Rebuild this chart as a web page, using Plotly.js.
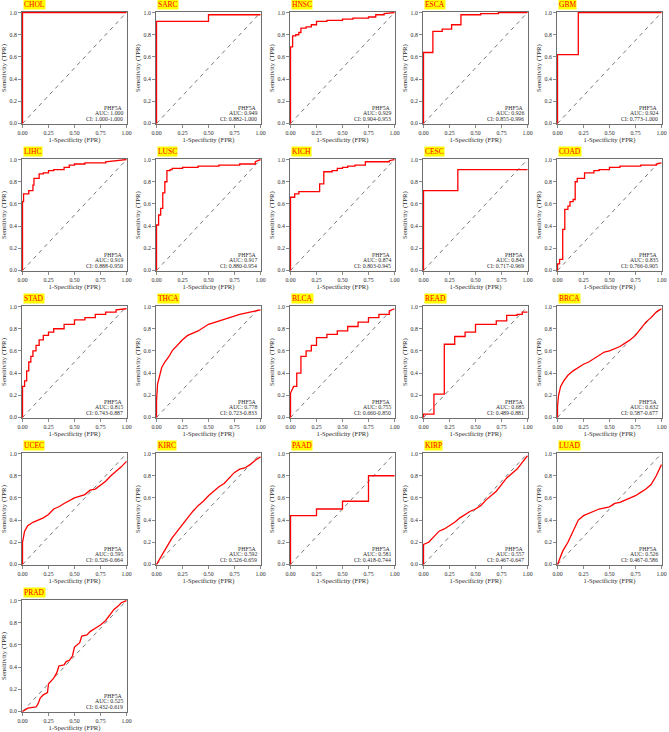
<!DOCTYPE html>
<html>
<head>
<meta charset="utf-8">
<script src="https://cdn.plot.ly/plotly-3.0.1.min.js"></script>
<style>html,body{margin:0;padding:0;background:#fff;}#chart{width:669px;height:732px;}</style>
</head>
<body>
<div id="chart"></div>
<script>
// ---- Data ----
const cancers = ['CHOL','SARC','HNSC','ESCA','GBM','LIHC','LUSC','KICH','CESC','COAD','STAD','THCA','BLCA','READ','BRCA','UCEC','KIRC','PAAD','KIRP','LUAD','PRAD'];
const geneName = 'PHF5A';
const aucLabels = ['1.000','0.949','0.929','0.926','0.924','0.919','0.917','0.874','0.843','0.835','0.815','0.778','0.755','0.685','0.632','0.595','0.592','0.581','0.557','0.526','0.525'];
const ciLabels = ['1.000-1.000','0.882-1.000','0.904-0.953','0.855-0.996','0.773-1.000','0.888-0.950','0.880-0.954','0.803-0.945','0.717-0.969','0.766-0.905','0.743-0.887','0.723-0.833','0.660-0.850','0.489-0.881','0.587-0.677','0.526-0.664','0.526-0.659','0.418-0.744','0.467-0.647','0.467-0.586','0.432-0.619'];

const fpr_CHOL = [0,0,1];
const tpr_CHOL = [0,1,1];
const fpr_SARC = [0,0,0.5,0.5,1];
const tpr_SARC = [0,0.92,0.92,0.98,0.98];
const fpr_HNSC = [0,0,0.02,0.02,0.05,0.05,0.08,0.08,0.1,0.1,0.15,0.15,0.2,0.2,0.25,0.25,0.35,0.35,0.5,0.5,0.6,0.6,0.75,0.75,0.82,0.82,0.9,0.9,1];
const tpr_HNSC = [0,0.69,0.69,0.79,0.79,0.80,0.80,0.82,0.82,0.86,0.86,0.87,0.87,0.89,0.89,0.92,0.92,0.93,0.93,0.94,0.94,0.95,0.95,0.96,0.96,0.98,0.98,0.99,1];
const fpr_ESCA = [0,0,0.09,0.09,0.18,0.18,0.27,0.27,0.36,0.36,0.55,0.55,0.72,0.72,1];
const tpr_ESCA = [0,0.64,0.64,0.83,0.83,0.85,0.85,0.89,0.89,0.98,0.98,0.99,0.99,1,1];
const fpr_GBM = [0,0,0.2,0.2,1];
const tpr_GBM = [0,0.62,0.62,1,1];
const fpr_LIHC = [0,0,0.01,0.01,0.06,0.06,0.1,0.1,0.11,0.11,0.16,0.16,0.2,0.2,0.25,0.25,0.3,0.3,0.4,0.4,0.45,0.45,0.5,0.5,0.6,0.6,0.8,0.8,1];
const tpr_LIHC = [0,0.62,0.62,0.69,0.69,0.72,0.72,0.77,0.77,0.83,0.83,0.87,0.87,0.88,0.88,0.90,0.90,0.91,0.91,0.93,0.93,0.95,0.95,0.96,0.96,0.97,0.97,0.98,1];
const fpr_LUSC = [0,0,0.02,0.02,0.04,0.04,0.06,0.06,0.08,0.08,0.1,0.1,0.13,0.13,0.15,0.15,0.25,0.25,0.4,0.4,0.6,0.6,0.8,0.8,0.95,0.95,1];
const tpr_LUSC = [0,0.41,0.41,0.5,0.5,0.56,0.56,0.70,0.70,0.80,0.80,0.90,0.90,0.91,0.91,0.92,0.92,0.93,0.93,0.94,0.94,0.95,0.95,0.96,0.96,0.98,1];
const fpr_KICH = [0,0,0.04,0.04,0.08,0.08,0.28,0.28,0.32,0.32,0.4,0.4,0.45,0.45,0.5,0.5,0.55,0.55,0.62,0.62,0.72,0.72,0.95,0.95,1];
const tpr_KICH = [0,0.66,0.66,0.69,0.69,0.71,0.71,0.78,0.78,0.89,0.89,0.90,0.90,0.92,0.92,0.93,0.93,0.94,0.94,0.95,0.95,0.98,0.98,0.99,1];
const fpr_CESC = [0,0,0.33,0.33,1];
const tpr_CESC = [0,0.72,0.72,0.91,0.91];
const fpr_COAD = [0,0,0.02,0.02,0.05,0.05,0.07,0.07,0.1,0.1,0.12,0.12,0.15,0.15,0.17,0.17,0.19,0.19,0.26,0.26,0.35,0.35,0.4,0.4,0.5,0.5,0.6,0.6,0.8,0.8,0.95,0.95,1];
const tpr_COAD = [0,0.06,0.06,0.10,0.10,0.37,0.37,0.55,0.55,0.58,0.58,0.62,0.62,0.64,0.64,0.80,0.80,0.83,0.83,0.88,0.88,0.90,0.90,0.91,0.91,0.93,0.93,0.94,0.94,0.95,0.95,0.96,0.97];
const fpr_STAD = [0,0,0.02,0.02,0.04,0.04,0.06,0.06,0.08,0.08,0.1,0.1,0.13,0.13,0.16,0.16,0.2,0.2,0.25,0.25,0.3,0.3,0.4,0.4,0.5,0.5,0.6,0.6,0.7,0.7,0.8,0.8,0.9,0.9,1];
const tpr_STAD = [0,0.28,0.28,0.33,0.33,0.42,0.42,0.50,0.50,0.55,0.55,0.60,0.60,0.65,0.65,0.70,0.70,0.74,0.74,0.77,0.77,0.80,0.80,0.84,0.84,0.88,0.88,0.90,0.90,0.93,0.93,0.95,0.95,0.97,0.98];
const fpr_THCA = [0,0,0.01,0.03,0.05,0.08,0.12,0.15,0.2,0.25,0.3,0.4,0.5,0.6,0.7,0.8,0.9,1];
const tpr_THCA = [0,0.15,0.30,0.38,0.45,0.50,0.55,0.60,0.65,0.70,0.74,0.78,0.84,0.87,0.90,0.93,0.95,0.97];
const fpr_BLCA = [0,0,0.03,0.06,0.06,0.1,0.1,0.15,0.15,0.2,0.2,0.25,0.25,0.35,0.35,0.45,0.45,0.55,0.55,0.65,0.65,0.75,0.75,0.85,0.85,0.95,0.95,1];
const tpr_BLCA = [0,0.22,0.28,0.28,0.40,0.40,0.55,0.55,0.60,0.60,0.65,0.65,0.72,0.72,0.75,0.75,0.78,0.78,0.82,0.82,0.86,0.86,0.90,0.90,0.93,0.93,0.96,0.98];
const fpr_READ = [0,0,0.1,0.1,0.2,0.2,0.3,0.3,0.4,0.4,0.5,0.5,0.7,0.7,0.8,0.8,0.9,0.9,0.95,0.95,1];
const tpr_READ = [0,0.03,0.03,0.21,0.21,0.66,0.66,0.73,0.73,0.77,0.77,0.84,0.84,0.87,0.87,0.92,0.92,0.93,0.93,0.95,0.95];
const fpr_BRCA = [0,0,0.01,0.03,0.06,0.1,0.15,0.2,0.25,0.3,0.35,0.4,0.45,0.5,0.55,0.6,0.65,0.7,0.75,0.8,0.85,0.9,0.95,1];
const tpr_BRCA = [0,0.10,0.20,0.28,0.33,0.38,0.42,0.45,0.48,0.50,0.53,0.56,0.59,0.60,0.62,0.64,0.67,0.70,0.74,0.80,0.86,0.90,0.95,0.98];
const fpr_UCEC = [0,0,0.02,0.05,0.1,0.15,0.2,0.25,0.3,0.35,0.4,0.5,0.6,0.65,0.7,0.8,0.85,0.9,0.95,1];
const tpr_UCEC = [0,0.20,0.30,0.35,0.38,0.40,0.42,0.45,0.50,0.52,0.55,0.60,0.63,0.67,0.68,0.75,0.80,0.84,0.88,0.93];
const fpr_KIRC = [0,0.02,0.05,0.1,0.15,0.2,0.25,0.3,0.35,0.4,0.45,0.5,0.55,0.6,0.65,0.7,0.75,0.8,0.85,0.9,0.95,1];
const tpr_KIRC = [0,0.03,0.08,0.16,0.24,0.30,0.37,0.42,0.48,0.53,0.57,0.62,0.66,0.70,0.73,0.78,0.83,0.86,0.87,0.90,0.94,0.97];
const fpr_PAAD = [0,0,0.25,0.25,0.5,0.5,0.75,0.75,1];
const tpr_PAAD = [0,0.44,0.44,0.50,0.50,0.57,0.57,0.80,0.80];
const fpr_KIRP = [0,0,0.05,0.1,0.15,0.2,0.25,0.3,0.35,0.4,0.45,0.5,0.55,0.6,0.65,0.7,0.75,0.8,0.85,0.9,0.95,1];
const tpr_KIRP = [0,0.18,0.20,0.25,0.30,0.32,0.35,0.38,0.42,0.45,0.48,0.50,0.53,0.58,0.62,0.66,0.72,0.78,0.82,0.86,0.92,0.98];
const fpr_LUAD = [0,0.02,0.05,0.1,0.15,0.2,0.25,0.3,0.35,0.4,0.5,0.55,0.6,0.65,0.7,0.75,0.8,0.85,0.9,0.95,1];
const tpr_LUAD = [0,0.05,0.12,0.20,0.30,0.40,0.44,0.46,0.48,0.50,0.52,0.55,0.56,0.58,0.60,0.62,0.65,0.68,0.72,0.80,0.90];
const fpr_PRAD = [0,0.05,0.13,0.15,0.17,0.2,0.24,0.25,0.3,0.33,0.35,0.4,0.42,0.45,0.48,0.5,0.55,0.57,0.62,0.65,0.7,0.75,0.8,0.85,0.88,0.92,0.95,1];
const tpr_PRAD = [0,0.03,0.04,0.07,0.12,0.15,0.17,0.25,0.30,0.35,0.41,0.42,0.45,0.46,0.50,0.58,0.62,0.68,0.69,0.72,0.75,0.78,0.82,0.88,0.92,0.95,0.98,1];

const fprList = [fpr_CHOL,fpr_SARC,fpr_HNSC,fpr_ESCA,fpr_GBM,fpr_LIHC,fpr_LUSC,fpr_KICH,fpr_CESC,fpr_COAD,fpr_STAD,fpr_THCA,fpr_BLCA,fpr_READ,fpr_BRCA,fpr_UCEC,fpr_KIRC,fpr_PAAD,fpr_KIRP,fpr_LUAD,fpr_PRAD];
const tprList = [tpr_CHOL,tpr_SARC,tpr_HNSC,tpr_ESCA,tpr_GBM,tpr_LIHC,tpr_LUSC,tpr_KICH,tpr_CESC,tpr_COAD,tpr_STAD,tpr_THCA,tpr_BLCA,tpr_READ,tpr_BRCA,tpr_UCEC,tpr_KIRC,tpr_PAAD,tpr_KIRP,tpr_LUAD,tpr_PRAD];

// ---- Layout geometry ----
const W = 669, H = 732;
const colLeft = [22,156,290,423,557];
const rowTop = [12,159,306,453,600];
const pw = 105, ph = 112;
const FONT = 'Liberation Serif, Times New Roman, serif';
const TXT = '#2b2b2b';

const traces = [];
const layout = {
  width: W, height: H,
  margin: {l:0, r:0, t:0, b:0},
  paper_bgcolor: '#ffffff', plot_bgcolor: '#ffffff',
  showlegend: false,
  font: {family: FONT, size: 6, color: TXT},
  annotations: []
};

cancers.forEach((name, i) => {
  const r = Math.floor(i/5), c = i % 5;
  const sfx = i === 0 ? '' : String(i+1);
  const xa = 'x' + sfx, ya = 'y' + sfx;
  const x0 = colLeft[c], y0 = rowTop[r];
  // diagonal reference
  traces.push({x:[0,1], y:[0,1], xaxis:xa, yaxis:ya, mode:'lines', type:'scatter',
    line:{color:'#555555', width:0.8, dash:'4px,4px'}, hoverinfo:'skip'});
  // ROC curve
  traces.push({x:fprList[i], y:tprList[i], xaxis:xa, yaxis:ya, mode:'lines', type:'scatter',
    line:{color:'#ff0000', width:1.3}, name:name});
  const axCommon = {
    showline:true, mirror:true, linecolor:'#6e6e6e', linewidth:1,
    showgrid:false, zeroline:false, ticks:'outside', ticklen:3, tickwidth:0.8, tickcolor:'#6e6e6e',
    tickfont:{family:FONT, size:5.8, color:TXT}, fixedrange:true
  };
  layout['xaxis'+sfx] = Object.assign({}, axCommon, {
    domain:[x0/W, (x0+pw)/W], anchor:ya, range:[-0.005,1.005],
    tickvals:[0,0.25,0.5,0.75,1], ticktext:['0.00','0.25','0.50','0.75','1.00'],
    title:{text:'1-Specificity (FPR)', font:{family:FONT, size:6.6, color:TXT}, standoff:2}
  });
  layout['yaxis'+sfx] = Object.assign({}, axCommon, {
    domain:[1-(y0+ph)/H, 1-y0/H], anchor:xa, range:[-0.005,1.005],
    tickvals:[0,0.2,0.4,0.6,0.8,1], ticktext:['0.0','0.2','0.4','0.6','0.8','1.0'],
    title:{text:'Sensitivity (TPR)', font:{family:FONT, size:6.8, color:TXT}, standoff:2}
  });
  // panel label
  layout.annotations.push({xref:'paper', yref:'paper', x:(x0+1)/W, y:1-(y0-2)/H,
    xanchor:'left', yanchor:'bottom', text:name, showarrow:false,
    font:{family:FONT, size:7.5, color:'#ff0000'}, bgcolor:'#ffff00', borderpad:0});
  // stats text
  const stats = [[geneName,0.14],['AUC: '+aucLabels[i],0.09],['CI: '+ciLabels[i],0.04]];
  stats.forEach(s => {
    layout.annotations.push({xref:xa, yref:ya, x:0.985, y:s[1], xanchor:'right', yanchor:'middle',
      text:s[0], showarrow:false, font:{family:FONT, size:5.8, color:TXT}});
  });
});

Plotly.newPlot('chart', traces, layout, {staticPlot:true, displayModeBar:false});
</script>
</body>
</html>
